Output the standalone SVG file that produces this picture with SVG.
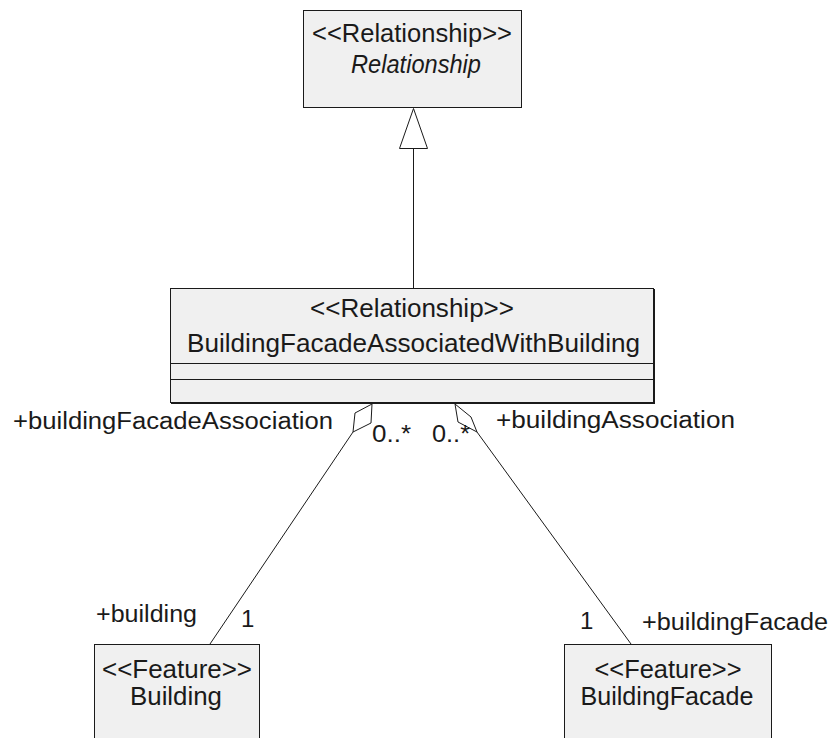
<svg xmlns="http://www.w3.org/2000/svg" width="835" height="738" viewBox="0 0 835 738">
<style>
  .box { fill: #f0f0f0; stroke: #1a1a1a; stroke-width: 1; }
  .edge { fill: none; stroke: #1a1a1a; stroke-width: 1; }
  .hollow { fill: #ffffff; stroke: #1a1a1a; stroke-width: 1; }
  .cls { font-family: "Liberation Sans", Arial, sans-serif; font-size: 25px; fill: #1a1a1a; text-anchor: middle; }
  .it { font-style: italic; }
  .lbl { font-family: "Liberation Sans", Arial, sans-serif; font-size: 23px; fill: #1a1a1a; }
  .mult { font-family: "Liberation Sans", Arial, sans-serif; font-size: 24px; fill: #1a1a1a; }
</style>
<rect width="835" height="738" fill="#ffffff"/>

<g id="connectors">
  <!-- generalization -->
  <line class="edge" x1="413.5" y1="148" x2="413.5" y2="288"/>
  <polygon class="hollow" points="413.5,108.5 399.5,148.5 427.5,148.5"/>
  <!-- aggregation to Building -->
  <line class="edge" x1="353" y1="432" x2="210" y2="644"/>
  <polygon class="hollow" points="372,404 371,423 353,432 355,413"/>
  <!-- aggregation to BuildingFacade -->
  <line class="edge" x1="477" y1="432" x2="631" y2="644"/>
  <polygon class="hollow" points="455,404 471,417 477,432 458,422"/>
  <text class="lbl" x="13" y="429" textLength="320" lengthAdjust="spacingAndGlyphs">+buildingFacadeAssociation</text>
  <text class="lbl" x="372" y="442" textLength="39" lengthAdjust="spacingAndGlyphs">0..*</text>
  <text class="lbl" x="432" y="442" textLength="38" lengthAdjust="spacingAndGlyphs">0..*</text>
  <text class="lbl" x="496" y="428" textLength="239" lengthAdjust="spacingAndGlyphs">+buildingAssociation</text>
  <text class="lbl" x="96" y="622" textLength="101" lengthAdjust="spacingAndGlyphs">+building</text>
  <text class="mult" x="241" y="627">1</text>
  <text class="mult" x="580" y="629">1</text>
  <text class="lbl" x="642" y="630" textLength="186" lengthAdjust="spacingAndGlyphs">+buildingFacade</text>
</g>

<g id="Relationship">
  <rect class="box" x="303.5" y="10.5" width="218" height="97"/>
  <text class="cls" x="412" y="41.5" textLength="200" lengthAdjust="spacingAndGlyphs">&lt;&lt;Relationship&gt;&gt;</text>
  <text class="cls it" x="416" y="72.5" textLength="130" lengthAdjust="spacingAndGlyphs">Relationship</text>
</g>

<g id="BuildingFacadeAssociatedWithBuilding">
  <rect class="box" x="170.5" y="288.5" width="483" height="114"/>
  <line class="edge" x1="170" y1="363.5" x2="654" y2="363.5"/>
  <line class="edge" x1="170" y1="379.5" x2="654" y2="379.5"/>
  <line class="edge" x1="171" y1="403.5" x2="655" y2="403.5"/>
  <line class="edge" x1="654.5" y1="289" x2="654.5" y2="404"/>
  <text class="cls" x="412" y="316.5" textLength="204" lengthAdjust="spacingAndGlyphs">&lt;&lt;Relationship&gt;&gt;</text>
  <text class="cls" x="413.5" y="351.5" textLength="453" lengthAdjust="spacingAndGlyphs">BuildingFacadeAssociatedWithBuilding</text>
</g>

<g id="Building">
  <rect class="box" x="94.5" y="644.5" width="165" height="110"/>
  <text class="cls" x="177" y="678" textLength="150" lengthAdjust="spacingAndGlyphs">&lt;&lt;Feature&gt;&gt;</text>
  <text class="cls" x="176" y="705" textLength="92" lengthAdjust="spacingAndGlyphs">Building</text>
</g>

<g id="BuildingFacade">
  <rect class="box" x="564.5" y="644.5" width="207" height="110"/>
  <text class="cls" x="668" y="678" textLength="147" lengthAdjust="spacingAndGlyphs">&lt;&lt;Feature&gt;&gt;</text>
  <text class="cls" x="667" y="705" textLength="173" lengthAdjust="spacingAndGlyphs">BuildingFacade</text>
</g>
</svg>
